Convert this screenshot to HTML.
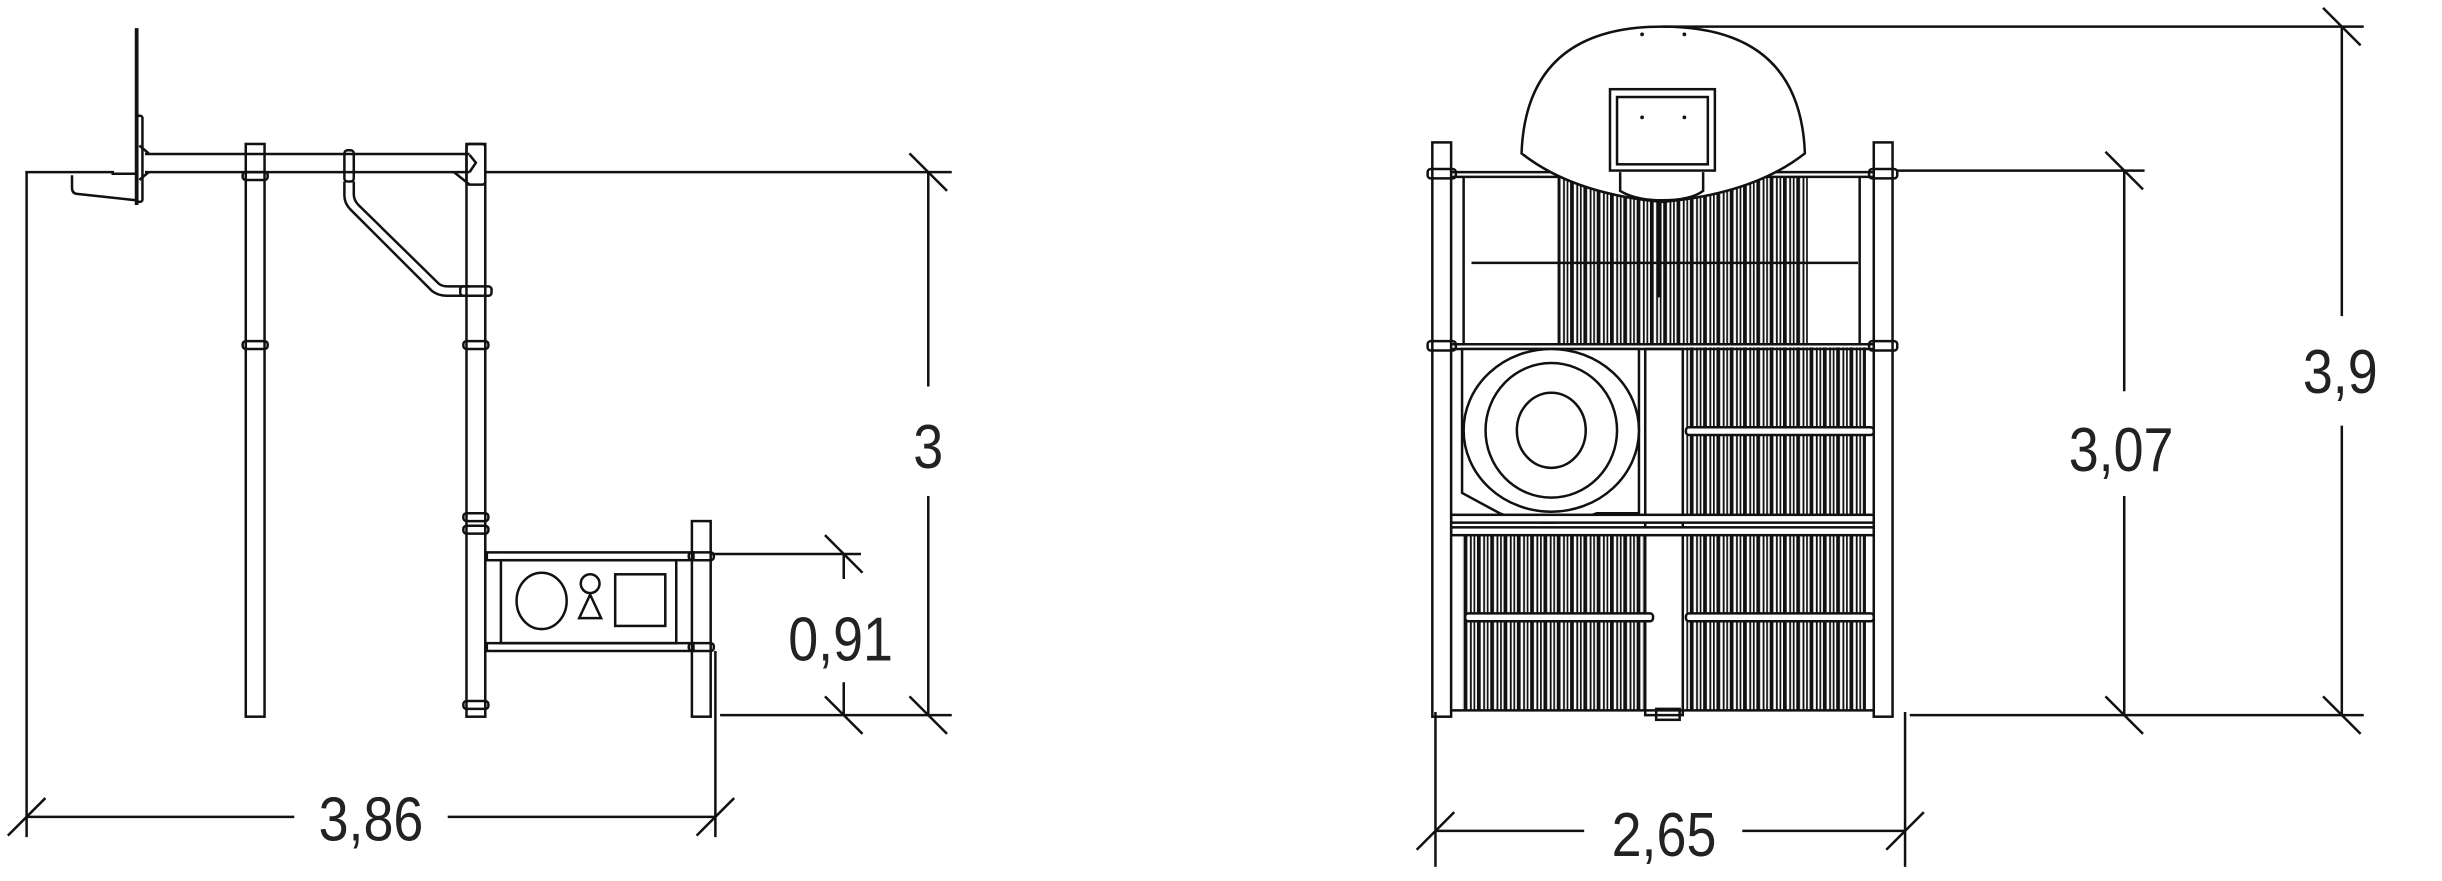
<!DOCTYPE html>
<html><head><meta charset="utf-8"><style>
html,body{margin:0;padding:0;background:#fff;}
svg{display:block;}
text{font-family:"Liberation Sans",sans-serif;fill:#222;}
</style></head><body>
<svg width="2442" height="881" viewBox="0 0 1560 563" preserveAspectRatio="none" xmlns="http://www.w3.org/2000/svg">
<defs>
<pattern id="bars" x="0" y="0" width="8.5" height="10" patternUnits="userSpaceOnUse">
<rect x="0" y="0" width="2.4" height="10" fill="#111"/>
<rect x="4.0" y="0" width="1.2" height="10" fill="#111"/>
<rect x="6.3" y="0" width="1.1" height="10" fill="#111"/>
</pattern>
</defs>
<g fill="none" stroke="#111" stroke-width="1.6">
<!-- LEFT FIGURE -->
<line x1="87.3" y1="18" x2="87.3" y2="131" stroke-width="2.4"/>
<rect x="87.5" y="74" width="3.5" height="55" rx="1.5"/>
<path d="M17,111 L17,110 L72,110 L72,111 L87,111"/>
<path d="M46,112 L46,120 Q46,124 50,124 L87,128"/>
<line x1="92.6" y1="98.4" x2="300" y2="98.4"/>
<line x1="92.6" y1="110" x2="300" y2="110"/>
<path d="M89,93 L95,98 M89,115 L95,110"/>
<path d="M300,99 L304,104 L300,110 M290,110 L300,118"/>
<rect x="157" y="92" width="12" height="366"/>
<rect x="155" y="110" width="16" height="5" rx="2"/>
<rect x="155" y="218" width="16" height="5" rx="2"/>
<rect x="220" y="96" width="6" height="20" rx="2"/>
<path d="M220,116 L220,125 Q220,130 224,134 L276,186 Q280,189 285,189 L300,189"/>
<path d="M226,116 L226,124 Q226,128 229,131 L280,181 Q282,183 286,183 L300,183"/>
<rect x="298" y="92" width="12" height="366"/>
<rect x="298" y="92" width="12" height="26" rx="2"/>
<rect x="294" y="183" width="20" height="6" rx="2"/>
<rect x="296" y="218" width="16" height="5" rx="2"/>
<rect x="296" y="328" width="16" height="5" rx="2"/>
<rect x="296" y="336" width="16" height="5" rx="2"/>
<rect x="296" y="448" width="16" height="5" rx="2"/>
<rect x="311" y="353" width="132" height="5"/>
<rect x="311" y="411" width="132" height="5"/>
<rect x="320" y="358" width="112" height="53"/>
<ellipse cx="346" cy="384" rx="16" ry="18"/>
<circle cx="377" cy="373" r="6"/>
<path d="M377,380 L384,395 L370,395 Z"/>
<rect x="393" y="367" width="32" height="33"/>
<rect x="442" y="333" width="12" height="125"/>
<rect x="440" y="353" width="16" height="5" rx="2"/>
<rect x="440" y="411" width="16" height="5" rx="2"/>
<line x1="310" y1="110" x2="608" y2="110"/>
<line x1="17" y1="110" x2="17" y2="535"/>
<line x1="593" y1="110" x2="593" y2="247"/>
<line x1="593" y1="317" x2="593" y2="457"/>
<line x1="581" y1="98" x2="605" y2="122"/>
<line x1="581" y1="445" x2="605" y2="469"/>
<line x1="454" y1="354" x2="550" y2="354"/>
<line x1="460" y1="457" x2="608" y2="457"/>
<line x1="539" y1="354" x2="539" y2="370"/>
<line x1="539" y1="436" x2="539" y2="457"/>
<line x1="527" y1="342" x2="551" y2="366"/>
<line x1="527" y1="445" x2="551" y2="469"/>
<line x1="457" y1="416" x2="457" y2="535"/>
<line x1="17" y1="522" x2="188" y2="522"/>
<line x1="286" y1="522" x2="457" y2="522"/>
<line x1="5" y1="534" x2="29" y2="510"/>
<line x1="445" y1="534" x2="469" y2="510"/>

<!-- RIGHT FIGURE -->
<rect x="995" y="113" width="160" height="107" fill="url(#bars)" stroke="none"/>
<rect x="1077" y="222" width="115" height="108" fill="url(#bars)" stroke="none"/>
<rect x="934" y="340" width="116" height="114" fill="url(#bars)" stroke="none"/>
<rect x="1077" y="340" width="115" height="114" fill="url(#bars)" stroke="none"/>
<line x1="927" y1="110" x2="1197" y2="110"/>
<line x1="927" y1="113" x2="1197" y2="113"/>
<line x1="935" y1="113" x2="935" y2="220"/>
<line x1="940" y1="168" x2="1187" y2="168"/>
<line x1="1188" y1="113" x2="1188" y2="220"/>
<line x1="927" y1="220" x2="1197" y2="220"/>
<line x1="927" y1="223" x2="1197" y2="223"/>
<path d="M934,223 L1047,223 L1047,328 L1020,328 Q989,340 958,328 L934,315 Z" fill="#fff"/>
<ellipse cx="991" cy="275" rx="56" ry="52" fill="#fff"/>
<ellipse cx="991" cy="275" rx="42" ry="43"/>
<ellipse cx="991" cy="275" rx="22" ry="24"/>
<rect x="1077" y="273" width="120" height="5" rx="2" fill="#fff"/>
<rect x="1051" y="223" width="24" height="234"/>
<rect x="927" y="329" width="270" height="5" fill="#fff"/>
<rect x="927" y="337" width="270" height="5" fill="#fff"/>
<rect x="936" y="392" width="120" height="5" rx="2" fill="#fff"/>
<rect x="1077" y="392" width="120" height="5" rx="2" fill="#fff"/>
<line x1="927" y1="454" x2="1197" y2="454"/>
<rect x="1058" y="453" width="15" height="7"/>
<rect x="915" y="91" width="12" height="367" fill="#fff"/>
<rect x="1197" y="91" width="12" height="367" fill="#fff"/>
<rect x="912" y="108" width="18" height="6" rx="2"/>
<rect x="912" y="218" width="18" height="6" rx="2"/>
<rect x="1194" y="108" width="18" height="6" rx="2"/>
<rect x="1194" y="218" width="18" height="6" rx="2"/>
<path d="M972,98 Q975,17 1062,17 Q1150,17 1153,98 Q1120,124 1062,129 Q1005,124 972,98 Z" fill="#fff"/>
<rect x="1028.5" y="57" width="67" height="52"/>
<rect x="1033" y="62" width="58" height="43"/>
<path d="M1035,110 L1035,122 Q1045,128 1062,128 Q1080,128 1088,122 L1088,110"/>
<line x1="1060" y1="128" x2="1060" y2="190" stroke-width="2.5"/>
<line x1="1062" y1="17" x2="1510" y2="17"/>
<line x1="1496" y1="17" x2="1496" y2="202"/>
<line x1="1496" y1="272" x2="1496" y2="457"/>
<line x1="1484" y1="5" x2="1508" y2="29"/>
<line x1="1484" y1="445" x2="1508" y2="469"/>
<line x1="1212" y1="109" x2="1370" y2="109"/>
<line x1="1357" y1="109" x2="1357" y2="250"/>
<line x1="1357" y1="317" x2="1357" y2="457"/>
<line x1="1345" y1="97" x2="1369" y2="121"/>
<line x1="1345" y1="445" x2="1369" y2="469"/>
<line x1="1220" y1="457" x2="1510" y2="457"/>
<line x1="917" y1="455" x2="917" y2="554"/>
<line x1="1217" y1="455" x2="1217" y2="554"/>
<line x1="917" y1="531" x2="1012" y2="531"/>
<line x1="1113" y1="531" x2="1217" y2="531"/>
<line x1="905" y1="543" x2="929" y2="519"/>
<line x1="1205" y1="543" x2="1229" y2="519"/>
</g>
<g fill="#111" stroke="none">
<circle cx="1049" cy="22" r="1.2"/><circle cx="1076" cy="22" r="1.2"/>
<circle cx="1049" cy="75" r="1.2"/><circle cx="1076" cy="75" r="1.2"/>
</g>
<g font-size="40" text-anchor="middle">
<text x="593" y="299" transform="translate(593,0) scale(0.86,1) translate(-593,0)">3</text>
<text x="537" y="422" transform="translate(537,0) scale(0.86,1) translate(-537,0)">0,91</text>
<text x="237" y="537" transform="translate(237,0) scale(0.86,1) translate(-237,0)">3,86</text>
<text x="1495" y="251" transform="translate(1495,0) scale(0.86,1) translate(-1495,0)">3,9</text>
<text x="1355" y="301" transform="translate(1355,0) scale(0.86,1) translate(-1355,0)">3,07</text>
<text x="1063" y="547" transform="translate(1063,0) scale(0.86,1) translate(-1063,0)">2,65</text>
</g>
</svg>
</body></html>
